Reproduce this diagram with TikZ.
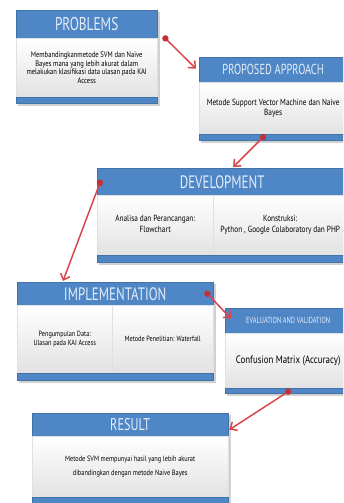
\documentclass[tikz,border=0pt]{standalone}
\usepackage{fontspec}
\setmainfont[FakeStretch=0.82]{PT Sans}
\newfontfamily\hfont[FakeStretch=0.72]{PT Sans}
\usetikzlibrary{arrows.meta,calc}
\definecolor{hblue}{HTML}{4F86C6}
\definecolor{htext}{HTML}{E4EDF8}
\definecolor{bgrey}{HTML}{E2E2E2}
\definecolor{ared}{HTML}{D9474C}
\definecolor{adot}{HTML}{C23038}
\tikzset{
  hdr/.style={fill=hblue, draw=hblue!85!black, line width=0.4pt, inner sep=0pt, text=htext, anchor=north west},
  bodybox/.style={top color=white, bottom color=bgrey, draw=black!12, line width=0.4pt, inner sep=0pt, align=center, text=black, anchor=north west},
  strip/.style={fill=hblue, draw=hblue!85!black, line width=0.3pt, inner sep=0pt, anchor=north west},
  shade box/.style={fill=black!18},
  flow/.style={draw=ared, line width=1.5pt, -{Straight Barb[length=5.5pt,width=10pt,line width=1.5pt]}},
  startdot/.style={fill=adot},
}
\begin{document}
\begin{tikzpicture}[x=1pt,y=-1pt]
\useasboundingbox (0,0) rectangle (343,503);
\clip (0,0) rectangle (343,503);
\fill[white] (0,0) rectangle (343,503);

% shadows
\fill[shade box] (18,12) rectangle (159.5,105.5);
\fill[shade box] (201,59) rectangle (349,142.5);
\fill[shade box] (99,170) rectangle (349,265);
\fill[shade box] (19,284) rectangle (215.5,382.5);
\fill[shade box] (227,310) rectangle (353,395.5);
\fill[shade box] (34,415) rectangle (230.5,507);

% PROBLEMS
\node[hdr, minimum width=141pt, minimum height=28pt, font=\hfont\fontsize{18.5}{18.5}\selectfont] (pr-h) at (16,10) {PROBLEMS};
\node[bodybox, minimum width=141pt, minimum height=59pt, font=\fontsize{8}{8.8}\selectfont] (pr-b) at (16,38)
  {Membandingkanmetode SVM dan Naive\\Bayes mana yang lebih akurat dalam\\melakukan klasifikasi data ulasan pada KAI\\Access};
\node[strip, minimum width=141pt, minimum height=6pt] (pr-s) at (16,97) {};

% PROPOSED APPROACH
\node[hdr, minimum width=148pt, minimum height=25pt, font=\hfont\fontsize{14.5}{14.5}\selectfont] (pa-h) at (199,57) {PROPOSED APPROACH};
\node[bodybox, minimum width=148pt, minimum height=52pt, font=\fontsize{8.9}{10}\selectfont] (pa-b) at (199,82)
  {Metode Support Vector Machine dan Naive\\Bayes};
\node[strip, minimum width=148pt, minimum height=6pt] (pa-s) at (199,134) {};

% DEVELOPMENT
\node[hdr, minimum width=250pt, minimum height=27pt, font=\hfont\fontsize{18}{18}\selectfont] (dv-h) at (97,168) {DEVELOPMENT};
\node[bodybox, minimum width=116pt, minimum height=60pt, font=\fontsize{8.9}{11}\selectfont] (dv-l) at (97,195)
  {Analisa dan Perancangan:\\Flowchart\\[-8pt]};
\node[bodybox, minimum width=134pt, minimum height=60pt, font=\fontsize{8.9}{11}\selectfont] (dv-r) at (213,195)
  {Konstruksi:\\Python , Google Colaboratory dan PHP\\[-8pt]};
\node[strip, minimum width=250pt, minimum height=7pt] (dv-s) at (97,255) {};

% IMPLEMENTATION
\node[hdr, minimum width=196pt, minimum height=23pt, font=\hfont\fontsize{18}{18}\selectfont] (im-h) at (17,282) {IMPLEMENTATION};
\node[bodybox, minimum width=95pt, minimum height=68pt, font=\fontsize{7.6}{9}\selectfont] (im-l) at (17,305)
  {Pengumpulan Data:\\Ulasan pada KAI Access};
\node[bodybox, minimum width=101pt, minimum height=68pt, font=\fontsize{7.6}{9}\selectfont] (im-r) at (112,305)
  {Metode Penelitian: Waterfall};
\node[strip, minimum width=196pt, minimum height=7pt] (im-s) at (17,373) {};

% EVALUATION AND VALIDATION
\node[hdr, minimum width=126pt, minimum height=25pt, font=\hfont\fontsize{8.8}{8.8}\selectfont] (ev-h) at (225,308) {EVALUATION AND VALIDATION};
\node[bodybox, minimum width=126pt, minimum height=55pt, font=\fontsize{10.8}{12}\selectfont] (ev-b) at (225,333)
  {Confusion Matrix (Accuracy)};
\node[strip, minimum width=126pt, minimum height=5pt] (ev-s) at (225,388) {};

% RESULT
\node[hdr, minimum width=196pt, minimum height=23pt, font=\hfont\fontsize{17}{17}\selectfont] (re-h) at (32,413) {RESULT};
\node[bodybox, minimum width=196pt, minimum height=61pt, font=\fontsize{7.7}{14}\selectfont] (re-b) at (32,436)
  {Metode SVM mempunyai hasil yang lebih akurat\\dibandingkan dengan metode Naive Bayes};
\node[strip, minimum width=196pt, minimum height=8pt] (re-s) at (32,497) {};

% connector end points
\coordinate (a1s) at ($(pr-h.south east)+(8,0)$);
\coordinate (a1e) at ($(pa-h.west)+(-3,-1)$);
\coordinate (a2s) at ($(pa-s.center)+(-10,0)$);
\coordinate (a2e) at ($(dv-h.north)+(11,-1)$);
\coordinate (a3s) at ($(dv-h.west)+(3,1)$);
\coordinate (a3e) at ($(im-h.north west)+(46,-1)$);
\coordinate (a4s) at ($(im-h.east)+(-6,0)$);
\coordinate (a4e) at ($(ev-h.west)+(6,-2)$);
\coordinate (a5s) at ($(ev-s.center)+(0,1)$);
\coordinate (a5e) at ($(re-h.east)+(1,5)$);

\draw[flow] (a1s) -- (a1e);
\draw[flow] (a2s) -- (a2e);
\draw[flow] (a3s) -- (a3e);
\draw[flow] (a4s) -- (a4e);
\draw[flow] (a5s) -- (a5e);
\foreach \p in {a1s,a2s,a3s,a4s,a5s} \fill[startdot] (\p) circle (3.2);
\end{tikzpicture}
\end{document}
